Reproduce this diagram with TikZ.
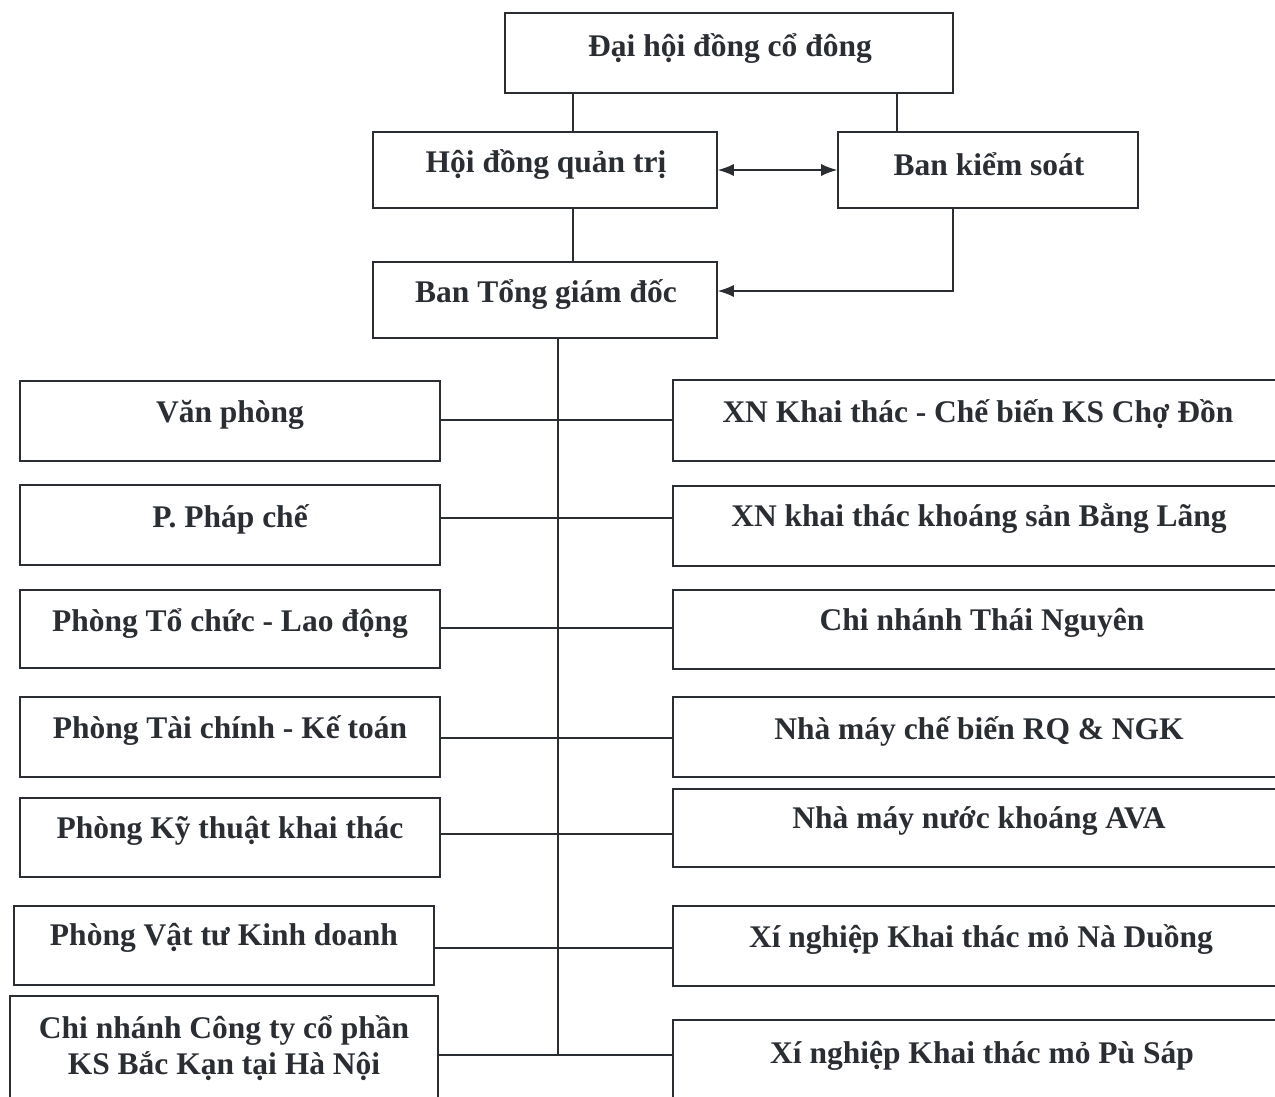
\documentclass[tikz,border=0pt]{standalone}
\usepackage{fontspec}
\setmainfont{Liberation Serif}
\usetikzlibrary{arrows.meta}
\definecolor{ink}{HTML}{2A2E33}
\tikzset{
  box/.style={draw=ink, line width=1.6pt, rectangle, inner sep=0pt},
  lbl/.style={text=ink, font=\fontsize{31.5}{36}\selectfont\bfseries, align=center, inner sep=0pt},
  conn/.style={draw=ink, line width=1.3pt},
  arr/.style={conn, -{Latex[length=16pt,width=12pt]}},
  darr/.style={conn, {Latex[length=16pt,width=12pt]}-{Latex[length=16pt,width=12pt]}},
}
\newcommand{\bx}[5]{\node[box, minimum width=#4pt, minimum height=#5pt] (#1) at (#2,#3) {};}
\begin{document}
\begin{tikzpicture}[x=1pt,y=-1pt]
\useasboundingbox (0,0) rectangle (1275,1096);
% top boxes
\bx{dh}{729}{53}{448}{80}
\bx{hd}{545}{170}{344}{76}
\bx{bks}{988}{170}{300}{76}
\bx{tgd}{545}{300}{344}{76}
% left column
\bx{L1}{230}{421}{420}{80}
\bx{L2}{230}{525}{420}{80}
\bx{L3}{230}{629}{420}{78}
\bx{L4}{230}{737}{420}{80}
\bx{L5}{230}{837.5}{420}{79}
\bx{L6}{224}{945.5}{420}{79}
\bx{L7}{224}{1050}{428}{108}
% right column
\bx{R1}{979}{420.5}{612}{81}
\bx{R2}{979}{526}{612}{80}
\bx{R3}{979}{629.5}{612}{79}
\bx{R4}{979}{737}{612}{80}
\bx{R5}{979}{828}{612}{78}
\bx{R6}{979}{946}{612}{80}
\bx{R7}{979}{1065}{612}{90}
% labels
\node[lbl] (tdh) at (730,49) {Đại hội đồng cổ đông};
\node[lbl] (thd) at (546,165) {Hội đồng quản trị};
\node[lbl] (tbks) at (989,164) {Ban kiểm soát};
\node[lbl] (ttgd) at (546,295) {Ban Tổng giám đốc};
\node[lbl] (tL1) at (230,415) {Văn phòng};
\node[lbl] (tL2) at (230,519) {P. Pháp chế};
\node[lbl] (tL3) at (230,624) {Phòng Tổ chức - Lao động};
\node[lbl] (tL4) at (230,731) {Phòng Tài chính - Kế toán};
\node[lbl] (tL5) at (230,831) {Phòng Kỹ thuật khai thác};
\node[lbl] (tL6) at (224,938) {Phòng Vật tư Kinh doanh};
\node[lbl] (tL7) at (224,1048) {Chi nhánh Công ty cổ phần\\KS Bắc Kạn tại Hà Nội};
\node[lbl] (tR1) at (978,414) {XN Khai thác - Chế biến KS Chợ Đồn};
\node[lbl] (tR2) at (979,519) {XN khai thác khoáng sản Bằng Lãng};
\node[lbl] (tR3) at (982,623) {Chi nhánh Thái Nguyên};
\node[lbl] (tR4) at (979,731) {Nhà máy chế biến RQ \& NGK};
\node[lbl] (tR5) at (979,821) {Nhà máy nước khoáng AVA};
\node[lbl] (tR6) at (981,940) {Xí nghiệp Khai thác mỏ Nà Duồng};
\node[lbl] (tR7) at (982,1056) {Xí nghiệp Khai thác mỏ Pù Sáp};
% top connectors
\coordinate (c1) at (573,0);
\coordinate (c2) at (897,0);
\draw[conn] (dh.south -| c1) -- (hd.north -| c1);
\draw[conn] (dh.south -| c2) -- (bks.north -| c2);
\draw[conn] (hd.south -| c1) -- (tgd.north -| c1);
\draw[darr] (hd.east) -- (bks.west);
\coordinate (k1) at (953,291);
\draw[arr] (bks.south -| k1) -- (k1) -- (tgd.east |- k1);
% trunk
\coordinate (t1) at (558,420);
\coordinate (t2) at (558,518);
\coordinate (t3) at (558,628);
\coordinate (t4) at (558,738);
\coordinate (t5) at (558,834);
\coordinate (t6) at (558,948);
\coordinate (t7) at (558,1055);
\draw[conn] (tgd.south -| t1) -- (t7);
\foreach \i in {1,...,7}{
  \draw[conn] (L\i.east |- t\i) -- (t\i) -- (R\i.west |- t\i);
}
\end{tikzpicture}
\end{document}
